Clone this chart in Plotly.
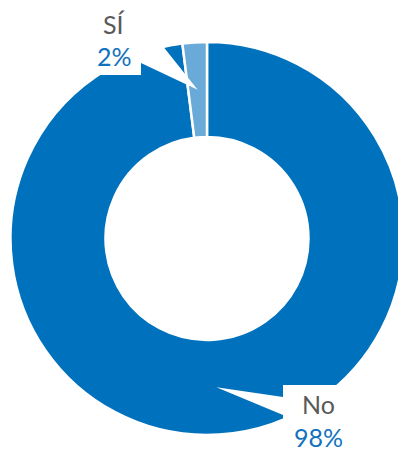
import numpy as np
import plotly.graph_objects as go

# Data
labels = ["No", "SÍ"]
values = [98, 2]
pct_text = ["98%", "2%"]
colors = ["#0071BC", "#6AAAD8"]

W, H = 414, 451
CX, CY = 207.0, 238.5          # pie centre in pixels
R_OUT, R_IN = 196.5, 101.5
hole = R_IN / R_OUT

fig = go.Figure(go.Pie(
    labels=labels, values=values, sort=False, direction="clockwise", rotation=0,
    hole=hole, marker=dict(colors=colors, line=dict(color="white", width=2.5)),
    textinfo="none", hoverinfo="label+percent", showlegend=False,
    domain=dict(x=[(CX - R_OUT) / W, (CX + R_OUT) / W],
                y=[1 - (CY + R_OUT) / H, 1 - (CY - R_OUT) / H]),
))

def px(x, y):
    return x / W, 1 - y / H

# slice mid-angles (clockwise from 12 o'clock) from data
vals = np.array(values, dtype=float)
frac = vals / vals.sum()
ends = np.cumsum(frac) * 360
mids = ends - frac * 180
r_mid = (R_OUT + R_IN) / 2
tips = [(CX + r_mid * np.sin(np.radians(a)), CY - r_mid * np.cos(np.radians(a))) for a in mids]

def path(points):
    pts = [px(*p) for p in points]
    return "M " + " L ".join(f"{x:.5f},{y:.5f}" for x, y in pts) + " Z"

# callout for "No"
t0 = tips[0]
callout_no = [(283, 385), (W + 5, 385), (W + 5, H + 5), (283, H + 5), (283, 415), t0, (283, 397)]
# callout for "SÍ"
t1 = tips[1]
callout_si = [(95, 30), (95, 75), (141, 75), (141, 63), t1, (150, 30)]

shapes = []
for pts in (callout_no, callout_si):
    shapes.append(dict(type="path", xref="paper", yref="paper", path=path(pts),
                       fillcolor="white", line=dict(width=0), layer="above"))

font_family = "Lato, 'Open Sans', sans-serif"
gray = "#595959"
blue = "#1172BE"

annotations = []
label_pos = {"No": (318, 404, 437), "SÍ": (114, 24, 56)}
for lab, pct in zip(labels, pct_text):
    x, y1, y2 = label_pos[lab]
    for txt, yy, col in ((lab, y1, gray), (pct, y2, blue)):
        ax, ay = px(x, yy)
        annotations.append(dict(text=txt, x=ax, y=ay, xref="paper", yref="paper",
                                showarrow=False, xanchor="center", yanchor="middle",
                                font=dict(family=font_family, size=25, color=col)))

fig.update_layout(
    width=W, height=H, margin=dict(l=0, r=0, t=0, b=0),
    paper_bgcolor="white", plot_bgcolor="white",
    shapes=shapes, annotations=annotations,
)

fig.write_html("out.html", post_script=(
    "document.documentElement.style.overflow='hidden';"
    "document.body.style.overflow='hidden';document.body.style.margin='0';"))
